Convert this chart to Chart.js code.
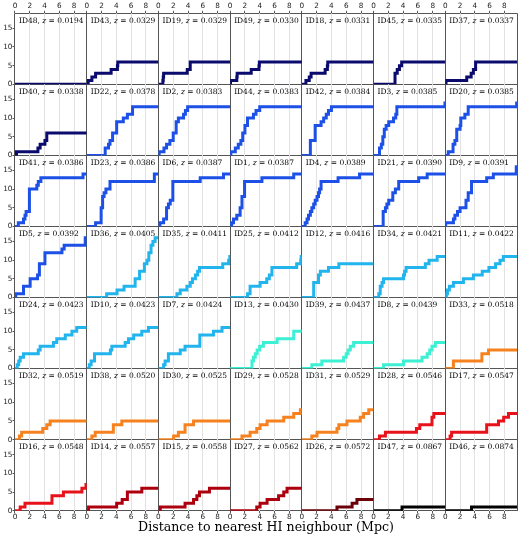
<!DOCTYPE html>
<html>
<head>
<meta charset="utf-8">
<script src="https://cdn.jsdelivr.net/npm/chart.js@4.4.1/dist/chart.umd.min.js"></script>
<style>
  html, body { margin: 0; padding: 0; background: #fff; }
  #grafico { display: block; }
</style>
</head>
<body>
<canvas id="grafico" width="520" height="539"></canvas>
<script>
// DADOS
const galaxyIds = [
  "ID48", "ID43", "ID19", "ID49", "ID18", "ID45", "ID37",
  "ID40", "ID22", "ID2", "ID44", "ID42", "ID3", "ID20",
  "ID41", "ID23", "ID6", "ID1", "ID4", "ID21", "ID9",
  "ID5", "ID36", "ID35", "ID25", "ID12", "ID34", "ID11",
  "ID24", "ID10", "ID7", "ID13", "ID39", "ID8", "ID33",
  "ID32", "ID38", "ID30", "ID29", "ID31", "ID28", "ID17",
  "ID16", "ID14", "ID15", "ID27", "ID26", "ID47", "ID46"
];

const redshifts = [
  0.0194, 0.0329, 0.0329, 0.0330, 0.0331, 0.0335, 0.0337,
  0.0338, 0.0378, 0.0383, 0.0383, 0.0384, 0.0385, 0.0385,
  0.0386, 0.0386, 0.0387, 0.0387, 0.0389, 0.0390, 0.0391,
  0.0392, 0.0405, 0.0411, 0.0412, 0.0416, 0.0421, 0.0422,
  0.0423, 0.0423, 0.0424, 0.0430, 0.0437, 0.0439, 0.0518,
  0.0519, 0.0520, 0.0525, 0.0528, 0.0529, 0.0546, 0.0547,
  0.0548, 0.0557, 0.0558, 0.0562, 0.0572, 0.0867, 0.0874
];

// distances (Mpc) to each HI neighbour, one list per galaxy
const neighbourDistances = [
  [],
  [0.2, 0.7, 1.2, 3.3, 4.15, 4.2],
  [0.6, 0.65, 0.7, 3.9, 4.3, 4.3],
  [0.05, 0.9, 0.95, 2.85, 3.9, 3.95],
  [0.55, 1.0, 1.25, 3.15, 3.45, 3.5],
  [2.9, 2.9, 2.9, 3.2, 3.5, 3.8],
  [0.1, 2.9, 3.5, 3.8, 4.1, 4.1],

  [0.2, 3.1, 3.4, 4.05, 4.3, 4.3],
  [2.5, 2.5, 2.95, 3.15, 3.5, 3.5, 4.05, 4.05, 4.05, 4.95, 5.5, 6.2, 6.2],
  [0.1, 0.75, 1.1, 1.55, 2.0, 2.0, 2.4, 2.4, 2.4, 2.7, 3.4, 3.65, 3.95],
  [0.1, 0.7, 1.1, 1.45, 1.7, 1.7, 2.0, 2.0, 2.35, 2.35, 3.15, 3.5, 4.0],
  [1.15, 1.15, 1.15, 1.15, 1.8, 1.8, 1.8, 1.8, 2.6, 2.95, 3.3, 3.6, 4.0],
  [0.8, 0.8, 1.05, 1.25, 1.25, 1.45, 1.45, 1.7, 2.05, 2.7, 3.0, 3.15, 3.15, 9.65],
  [0.4, 1.05, 1.05, 1.3, 1.55, 1.55, 1.55, 2.0, 2.1, 2.1, 2.65, 3.1, 3.1, 9.65],

  [0.45, 1.15, 1.35, 1.5, 1.95, 1.95, 1.95, 1.95, 1.95, 1.95, 2.95, 3.15, 3.5, 9.2],
  [1.2, 1.95, 1.95, 1.95, 1.95, 2.15, 2.15, 2.15, 2.35, 2.6, 3.15, 3.15, 9.15, 9.15],
  [0.2, 0.7, 1.1, 1.1, 1.1, 1.35, 1.6, 1.95, 1.95, 1.95, 1.95, 1.95, 5.65, 8.8],
  [0.2, 0.45, 0.9, 1.35, 1.35, 1.6, 1.6, 1.6, 1.95, 1.95, 1.95, 1.95, 4.3, 8.6],
  [0.45, 0.7, 0.9, 1.15, 1.35, 1.6, 1.8, 2.05, 2.25, 2.4, 2.6, 2.6, 4.9, 7.8],
  [1.3, 1.3, 1.3, 1.3, 1.6, 1.8, 2.05, 2.6, 2.6, 2.95, 3.4, 3.4, 6.1, 7.25],
  [0.05, 1.1, 1.3, 1.65, 2.0, 2.8, 2.8, 3.1, 3.1, 3.55, 3.55, 3.55, 5.6, 6.5, 9.6, 9.6],

  [0.1, 1.15, 1.15, 2.05, 2.05, 3.05, 3.3, 3.3, 3.3, 4.05, 4.05, 4.05, 6.35, 6.65, 9.5, 9.5],
  [2.7, 4.1, 5.05, 6.55, 6.55, 7.15, 7.15, 7.8, 7.8, 8.15, 8.4, 8.4, 8.7, 8.7, 8.95, 9.25],
  [2.5, 2.95, 3.85, 4.3, 4.6, 5.0, 5.3, 5.55, 8.7, 9.5, 9.65],
  [2.35, 2.7, 2.7, 4.05, 4.95, 5.3, 5.65, 5.65, 9.0, 9.55, 9.6],
  [1.6, 1.6, 1.6, 1.6, 2.25, 2.25, 2.5, 3.6, 5.0],
  [0.7, 0.9, 0.9, 1.15, 1.35, 4.05, 4.2, 4.4, 7.0, 7.5, 8.6],
  [0.15, 0.3, 0.55, 1.1, 2.45, 3.8, 5.0, 5.9, 6.8, 7.4, 7.85],

  [0.3, 0.5, 0.7, 1.15, 3.15, 3.4, 5.2, 5.65, 6.8, 7.7, 8.35],
  [0.35, 0.6, 1.05, 1.05, 3.2, 3.4, 5.2, 5.65, 6.35, 7.45, 8.35],
  [0.7, 0.9, 1.35, 1.35, 2.95, 3.6, 5.6, 5.6, 5.6, 7.45, 8.6],
  [2.95, 2.95, 3.15, 3.4, 3.65, 4.0, 4.5, 6.35, 8.6, 8.6],
  [1.35, 2.7, 5.65, 6.0, 6.25, 6.55, 7.0],
  [1.35, 4.05, 6.55, 7.25, 7.6, 7.9, 8.35],
  [1.1, 1.1, 4.95, 4.95, 5.85],

  [0.6, 0.9, 3.75, 4.3, 4.75],
  [0.7, 1.15, 3.6, 3.6, 4.75],
  [2.05, 2.7, 3.6, 3.6, 4.75],
  [1.6, 2.7, 3.6, 4.05, 5.0, 7.25, 8.6, 9.5],
  [1.35, 2.05, 4.75, 5.0, 6.1, 7.9, 8.35, 9.05],
  [0.8, 1.6, 5.8, 6.25, 7.9, 7.9, 8.15],
  [0.65, 0.85, 5.6, 5.6, 7.2, 7.9, 8.55],

  [0.7, 1.35, 5.0, 5.0, 6.55, 9.05, 9.6],
  [0.25, 4.05, 4.8, 5.5, 5.5, 7.45],
  [0.25, 3.6, 4.75, 5.2, 5.55, 6.9],
  [3.6, 4.05, 5.0, 6.55, 7.25, 7.7],
  [4.75, 6.8, 7.45],
  [3.85],
  [3.55]
];

const xTicks = [0, 2, 4, 6, 8];
const yTicks = [0, 5, 10, 15];
const xMax = 9.7;
const yMax = 19;
const tituloX = "Distance to nearest HI neighbour (Mpc)";

// ESTILO
const nCols = 7;
const nRows = 7;
const corBorda = "#555555";
const corGrade = "#e2e2e2";
const corTexto = "#222222";
const fonteTicks = { family: "DejaVu Sans", size: 7.3 };

// cor da linha por faixa de redshift
const faixas = [
  [0.0338, "#0b0b6e"],
  [0.0395, "#1c50e6"],
  [0.0425, "#22b4ec"],
  [0.0450, "#3cf0d4"],
  [0.0530, "#f5821f"],
  [0.0550, "#e8121b"],
  [0.0565, "#ad000e"],
  [0.0600, "#6c0008"],
  [1.0, "#000000"]
];

function corPara(z) {
  return faixas.find(f => z <= f[0])[1];
}

// DATASETS
const datasets = galaxyIds.map((id, i) => {
  const d = neighbourDistances[i];
  const pontos = [{ x: 0, y: 0 }];
  d.forEach((v, k) => pontos.push({ x: v, y: k + 1 }));
  pontos.push({ x: xMax, y: d.length });
  return {
    label: id,
    data: pontos,
    xAxisID: "xb" + (i % nCols),
    yAxisID: "y" + Math.floor(i / nCols),
    borderColor: corPara(redshifts[i]),
    borderWidth: 3,
    pointRadius: 0,
    stepped: true,
    fill: false
  };
});

// ESCALAS
const scales = {};

// os eixos y empilhados são colocados de baixo para cima, por isso a ordem invertida
for (let r = nRows - 1; r >= 0; r--) {
  scales["y" + r] = {
    type: "linear",
    position: "left",
    stack: "linhas",
    stackWeight: 1,
    min: 0,
    max: yMax,
    afterBuildTicks: s => { s.ticks = yTicks.concat(yMax).map(v => ({ value: v })); },
    afterFit: s => { s.width = 15; },
    border: { display: false },
    grid: {
      color: c => (c.tick && (c.tick.value === 0 || c.tick.value === yMax)) ? corBorda : "rgba(0,0,0,0)",
      lineWidth: 1,
      tickLength: 2.5,
      tickColor: c => (c.tick && yTicks.includes(c.tick.value)) ? corBorda : "rgba(0,0,0,0)"
    },
    ticks: {
      font: fonteTicks,
      color: corTexto,
      padding: 0,
      autoSkip: false,
      callback: v => yTicks.includes(v) ? String(v) : ""
    }
  };
}

for (let c = 0; c < nCols; c++) {
  scales["xt" + c] = {
    type: "linear",
    position: "top",
    stack: "topo",
    stackWeight: 1,
    min: 0,
    max: xMax,
    afterBuildTicks: s => { s.ticks = xTicks.map(v => ({ value: v })); },
    afterFit: s => { s.height = 13.3; },
    border: { display: false },
    grid: { drawOnChartArea: false, tickLength: 2.5, tickColor: corBorda },
    ticks: { font: fonteTicks, color: corTexto, padding: 0, maxRotation: 0, minRotation: 0, autoSkip: false }
  };
}

for (let c = 0; c < nCols; c++) {
  scales["xb" + c] = {
    type: "linear",
    position: "bottom",
    stack: "base",
    stackWeight: 1,
    min: 0,
    max: xMax,
    afterBuildTicks: s => { s.ticks = xTicks.concat(xMax).map(v => ({ value: v })); },
    afterFit: s => { s.height = 9.74; },
    border: { display: false },
    grid: {
      color: ctx => (ctx.tick && (ctx.tick.value === 0 || ctx.tick.value === xMax)) ? corBorda : corGrade,
      lineWidth: 1,
      tickLength: 2.5,
      tickColor: ctx => (ctx.tick && xTicks.includes(ctx.tick.value)) ? corBorda : "rgba(0,0,0,0)"
    },
    ticks: {
      font: fonteTicks,
      color: corTexto,
      padding: 0,
      maxRotation: 0,
      minRotation: 0,
      autoSkip: false,
      callback: v => xTicks.includes(v) ? String(v) : ""
    }
  };
}

// RÓTULOS DOS PAINÉIS
const rotulosPlugin = {
  id: "rotulos",
  afterDatasetsDraw(chart) {
    const ctx = chart.ctx;
    ctx.save();
    ctx.fillStyle = "#000";
    ctx.textBaseline = "alphabetic";
    ctx.textAlign = "left";
    galaxyIds.forEach((id, i) => {
      const xs = chart.scales["xb" + (i % nCols)];
      const ys = chart.scales["y" + Math.floor(i / nCols)];
      let x = xs.left + 4;
      const y = ys.top + 9.8;
      const partes = [
        [id + ", ", "normal"],
        ["z", "italic"],
        [" = " + redshifts[i].toFixed(4), "normal"]
      ];
      partes.forEach(([t, estilo]) => {
        ctx.font = estilo + ' 7.5px "DejaVu Serif"';
        ctx.fillText(t, x, y);
        x += ctx.measureText(t).width;
      });
    });
    ctx.restore();
  }
};

// GRÁFICO
new Chart(document.getElementById("grafico").getContext("2d"), {
  type: "line",
  data: { datasets },
  options: {
    responsive: false,
    animation: false,
    devicePixelRatio: 1,
    layout: { padding: { top: 0, right: 3, bottom: 3.44, left: 0 } },
    scales,
    plugins: {
      legend: { display: false },
      tooltip: { enabled: false },
      title: {
        display: true,
        position: "bottom",
        fullSize: false,
        text: tituloX,
        color: "#000",
        font: { family: "DejaVu Serif", size: 12.6, weight: "normal" },
        padding: { top: 0, bottom: 0 }
      }
    }
  },
  plugins: [rotulosPlugin]
});
</script>
</body>
</html>
